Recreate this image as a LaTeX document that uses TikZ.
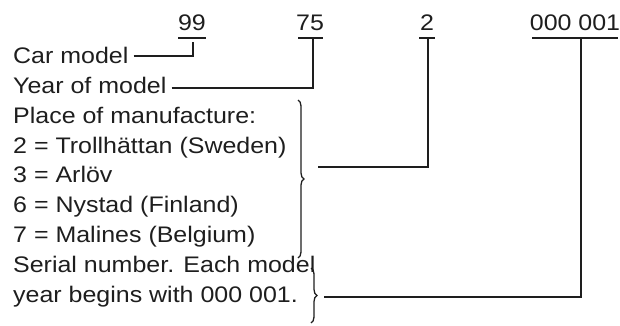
\documentclass[tikz,border=0pt]{standalone}
\usepackage{fontspec}
\setmainfont{Liberation Sans}[FakeStretch=1.11]
\usetikzlibrary{decorations.pathreplacing}
\definecolor{ink}{HTML}{1E1E1E}
\begin{document}
\begin{tikzpicture}[x=1pt,y=-1pt,
  lbl/.style={anchor=base west,inner sep=0pt,text=ink,font=\fontsize{22.5}{26}\selectfont},
  num/.style={anchor=base,inner sep=0pt,text=ink,font=\fontsize{22.5}{26}\selectfont},
  ln/.style={draw=ink,line width=1.3pt},
  brc/.style={draw=ink,line width=1.3pt,decorate,decoration={brace,amplitude=6pt}}]
\useasboundingbox (0,0) rectangle (620,326);
% numbers
\node[num] (n99) at (192,31) {99};
\node[num] (n75) at (310,31) {75};
\node[num] (n2) at (427,31) {2};
\node[num] (nser) at (575,31) {000 001};
\draw[ln] (178,38) -- (206,38);
\draw[ln] (298,38) -- (323,38);
\draw[ln] (419,38) -- (435,38);
\draw[ln] (532,38) -- (618,38);
% labels
\node[lbl] (car) at (13,64) {Car model};
\node[lbl] (year) at (13,93.7) {Year of model};
\node[lbl] (place) at (13,123.4) {Place of manufacture:};
\node[lbl] (p2) at (13,153) {2 = Trollhättan (Sweden)};
\node[lbl] (p3) at (13,182.7) {3 = Arlöv};
\node[lbl] (p6) at (13,212.4) {6 = Nystad (Finland)};
\node[lbl] (p7) at (13,242) {7 = Malines (Belgium)};
\node[lbl] (ser1) at (13,272) {Serial number. Each model};
\node[lbl] (ser2) at (13,302) {year begins with 000 001.};
% connector points
\coordinate (u99) at (193,42);
\coordinate (u75) at (313,39);
\coordinate (u2) at (428,39);
\coordinate (user) at (581,39);
\coordinate (c1) at ([xshift=5pt]car.east |- 0,56);
\coordinate (c2) at ([xshift=5pt]year.east |- 0,88);
\coordinate (c3) at (318,167);
\coordinate (c4) at (324,297);
% braces
\draw[brc] (298,100) -- (298,258);
\draw[brc] (311,268) -- (311,323);
% connectors
\draw[ln] (c1) -| (u99);
\draw[ln] (c2) -| (u75);
\draw[ln] (c3) -| (u2);
\draw[ln] (c4) -| (user);
\end{tikzpicture}
\end{document}
